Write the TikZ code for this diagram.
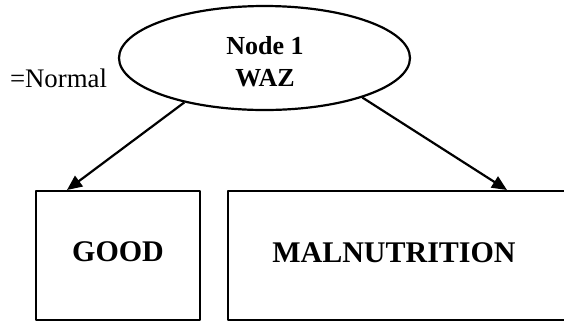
\documentclass[tikz,border=0pt]{standalone}
\usepackage{fontspec}
\setmainfont{Liberation Serif}
\usetikzlibrary{arrows.meta,shapes}
\tikzset{
  every picture/.style={line join=round, >={Triangle[length=7.5pt,width=6.5pt]}},
  thick/.style={line width=1.1pt},
  splitnode/.style={draw, thick, ellipse, inner sep=0pt, minimum width=145.5pt, minimum height=52pt,
    align=center, font=\fontsize{13}{16}\selectfont\bfseries},
  leafbox/.style={draw, thick, rectangle, inner sep=0pt, minimum height=64.5pt},
  leaftext/.style={font=\fontsize{15}{18}\selectfont\bfseries},
}

\begin{document}
\begin{tikzpicture}[x=0.5pt,y=-0.5pt]
\clip (0,0) rectangle (564,323);
\node[splitnode] (waz) at (264.5,58) {};
\node[align=center, font=\fontsize{13}{16}\selectfont\bfseries] (waztext) at (265,62) {Node 1\\WAZ};
\node[font=\fontsize{13.4}{16}\selectfont] (normal) at (58.5,78) {=Normal};
\node[leafbox, minimum width=82pt] (good) at (118,255.5) {};
\node[leaftext] (goodtext) at (118,252) {GOOD};
\node[leafbox, minimum width=260pt] (mal) at (488,255.5) {};
\node[leaftext] (maltext) at (394,252.5) {MALNUTRITION};
\coordinate (goodin) at (67,190);
\coordinate (malin) at (507,190);
\draw[thick,->] (waz.209) -- (goodin);
\draw[thick,->] (waz.338) -- (malin);
\end{tikzpicture}
\end{document}
